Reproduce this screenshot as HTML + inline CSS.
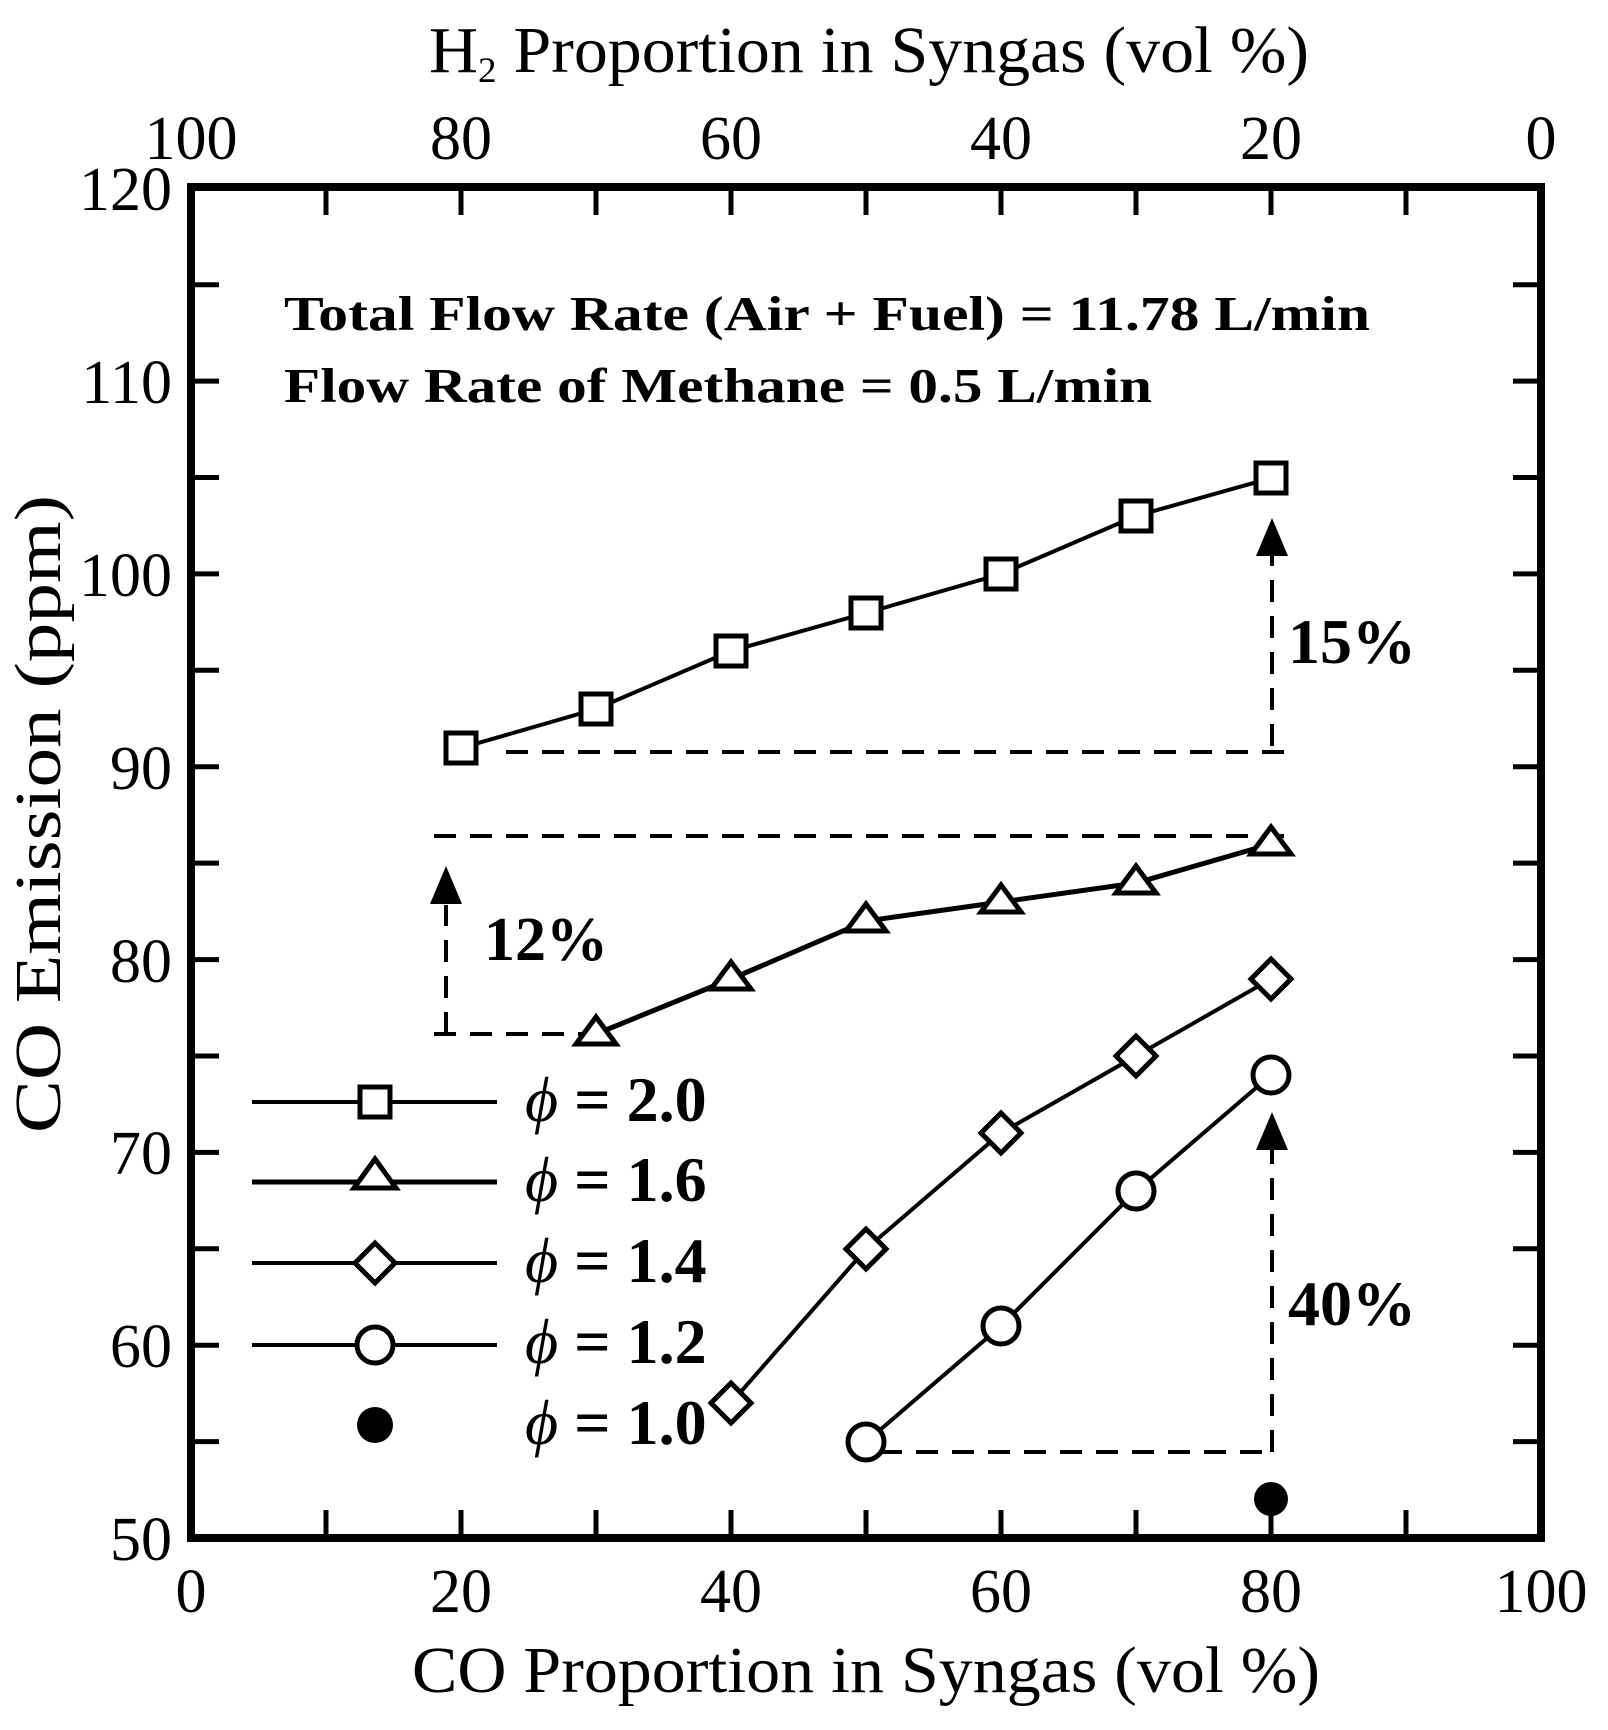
<!DOCTYPE html>
<html><head><style>html,body{margin:0;padding:0;background:#fff}</style></head><body>
<svg width="1608" height="1725" xmlns="http://www.w3.org/2000/svg" font-family="Liberation Serif, serif">
<rect width="1608" height="1725" fill="#fff"/>
<rect x="191" y="187" width="1350" height="1351" fill="none" stroke="#000" stroke-width="8"/>
<g stroke="#000" stroke-width="5">
<path d="M191 1441.6h28M191 1345.2h28M191 1248.8h28M191 1152.4h28M191 1056h28M191 959.6h28M191 863.1h28M191 766.7h28M191 670.3h28M191 573.9h28M191 477.5h28M191 381.1h28M191 284.7h28"/>
<path d="M1541 1441.6h-28M1541 1345.2h-28M1541 1248.8h-28M1541 1152.4h-28M1541 1056h-28M1541 959.6h-28M1541 863.1h-28M1541 766.7h-28M1541 670.3h-28M1541 573.9h-28M1541 477.5h-28M1541 381.1h-28M1541 284.7h-28"/>
<path d="M326 1538v-28M461 1538v-28M596 1538v-28M731 1538v-28M866 1538v-28M1001 1538v-28M1136 1538v-28M1271 1538v-28M1406 1538v-28"/>
<path d="M326 187v28M461 187v28M596 187v28M731 187v28M866 187v28M1001 187v28M1136 187v28M1271 187v28M1406 187v28"/>
</g>
<g font-size="62" text-anchor="end">
<text x="172" y="1560">50</text><text x="172" y="1367">60</text><text x="172" y="1174">70</text><text x="172" y="982">80</text><text x="172" y="789">90</text><text x="172" y="596">100</text><text x="172" y="403">110</text><text x="172" y="210">120</text>
</g>
<g font-size="62" text-anchor="middle">
<text x="191" y="1612">0</text><text x="461" y="1612">20</text><text x="731" y="1612">40</text><text x="1001" y="1612">60</text><text x="1271" y="1612">80</text><text x="1541" y="1612">100</text>
<text x="191" y="159">100</text><text x="461" y="159">80</text><text x="731" y="159">60</text><text x="1001" y="159">40</text><text x="1271" y="159">20</text><text x="1541" y="159">0</text>
</g>
<text x="412" y="1692" font-size="66" textLength="908" lengthAdjust="spacingAndGlyphs">CO Proportion in Syngas (vol %)</text>
<text x="429" y="72" font-size="66" textLength="880" lengthAdjust="spacingAndGlyphs">H<tspan font-size="36" dy="10">2</tspan><tspan dy="-10"> Proportion in Syngas (vol %)</tspan></text>
<text transform="translate(60,1133) rotate(-90)" font-size="66" textLength="638" lengthAdjust="spacingAndGlyphs">CO Emission (ppm)</text>
<g font-weight="bold" font-size="49">
<text x="284" y="330" textLength="1086" lengthAdjust="spacingAndGlyphs">Total Flow Rate (Air + Fuel) = 11.78 L/min</text>
<text x="284" y="402" textLength="868" lengthAdjust="spacingAndGlyphs">Flow Rate of Methane = 0.5 L/min</text>
<text x="1288" y="663" font-size="64">15%</text>
<text x="484" y="960" font-size="62">12%</text>
<text x="1288" y="1325" font-size="64">40%</text>
</g>
<g stroke="#000" stroke-width="4" stroke-dasharray="22,14" fill="none">
<path d="M506 752H1293"/>
<path d="M1272 746V555"/>
<path d="M434 836H1293"/>
<path d="M446 1034V905"/>
<path d="M434 1034H594"/>
<path d="M880 1452H1274"/>
<path d="M1272 1452V1150"/>
</g>
<g fill="#000">
<path d="M1272 518L1256 556H1288Z"/>
<path d="M446 866L430 904H462Z"/>
<path d="M1272 1112L1256 1150H1288Z"/>
</g>
<g stroke="#000" stroke-width="4" fill="none">
<polyline points="461,748 596,709 731,651 866,613 1001,574 1136,516 1271,478"/>
<polyline points="596,1034 731,979 866,921 1001,902 1136,883 1271,844" stroke-width="5"/>
<polyline points="731,1403 866,1249 1001,1133 1136,1056 1271,979"/>
<polyline points="866,1442 1001,1326 1136,1191 1271,1075"/>
</g>
<g stroke="#000" stroke-width="5" fill="#fff">
<rect x="446" y="733" width="30" height="30"/><rect x="581" y="694" width="30" height="30"/><rect x="716" y="636" width="30" height="30"/><rect x="851" y="598" width="30" height="30"/><rect x="986" y="559" width="30" height="30"/><rect x="1121" y="501" width="30" height="30"/><rect x="1256" y="463" width="30" height="30"/>
<path d="M596 1017l-20 27h40z M731 962l-20 27h40z M866 904l-20 27h40z M1001 885l-20 27h40z M1136 866l-20 27h40z M1271 827l-20 27h40z"/>
<path d="M731 1383l20 20-20 20-20-20z M866 1229l20 20-20 20-20-20z M1001 1113l20 20-20 20-20-20z M1136 1036l20 20-20 20-20-20z M1271 959l20 20-20 20-20-20z"/>
<circle cx="866" cy="1442" r="18"/><circle cx="1001" cy="1326" r="18"/><circle cx="1136" cy="1191" r="18"/><circle cx="1271" cy="1075" r="18"/>
</g>
<circle cx="1271" cy="1499" r="17" fill="#000"/>
<g stroke="#000" stroke-width="4">
<path d="M252 1102H497M252 1263H497M252 1345H497"/>
<path d="M252 1182H497" stroke-width="5"/>
</g>
<g stroke="#000" stroke-width="5" fill="#fff">
<rect x="360" y="1087" width="30" height="30"/>
<path d="M375 1159l-21 29h42z"/>
<path d="M375 1243l20 20-20 20-20-20z"/>
<circle cx="375" cy="1345" r="18"/>
</g>
<circle cx="375" cy="1425" r="18" fill="#000"/>
<g font-size="64" font-weight="bold">
<text x="525" y="1121"><tspan font-style="italic" font-weight="normal">ϕ</tspan> = 2.0</text>
<text x="525" y="1201"><tspan font-style="italic" font-weight="normal">ϕ</tspan> = 1.6</text>
<text x="525" y="1282"><tspan font-style="italic" font-weight="normal">ϕ</tspan> = 1.4</text>
<text x="525" y="1363"><tspan font-style="italic" font-weight="normal">ϕ</tspan> = 1.2</text>
<text x="525" y="1444"><tspan font-style="italic" font-weight="normal">ϕ</tspan> = 1.0</text>
</g>
</svg>
</body></html>
